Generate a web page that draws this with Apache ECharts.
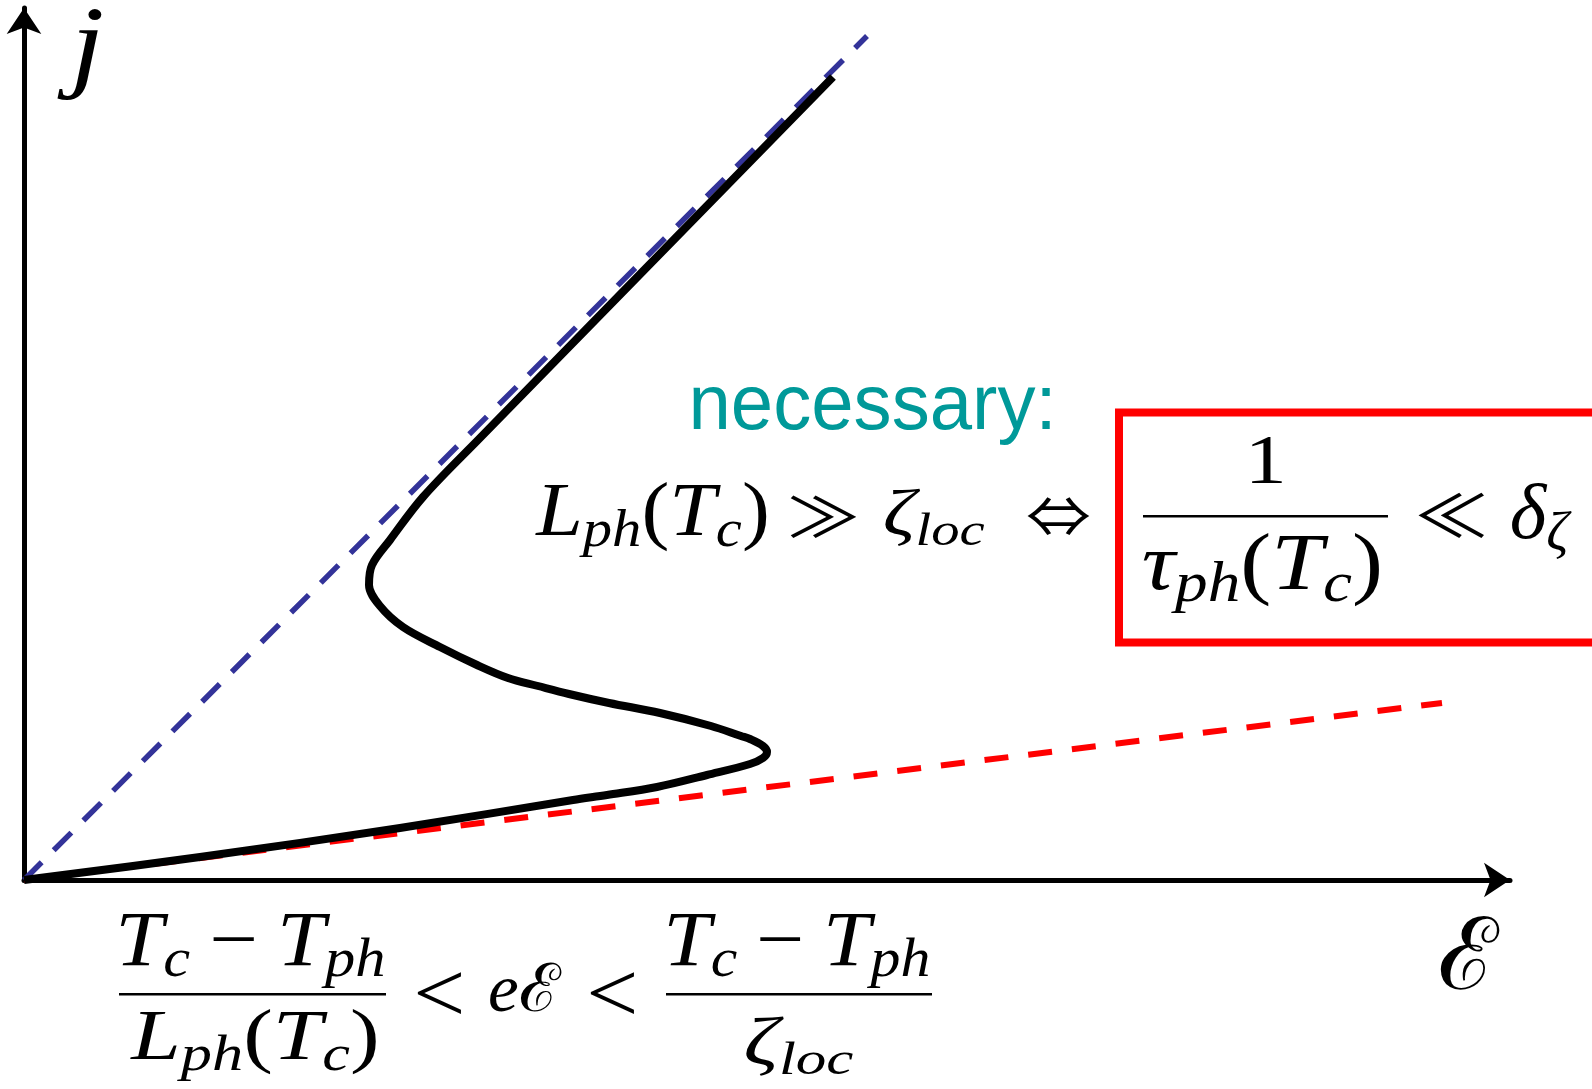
<!DOCTYPE html>
<html><head><meta charset="utf-8">
<script src="https://cdn.jsdelivr.net/npm/echarts@6/dist/echarts.min.js"></script>
<style>html,body{margin:0;padding:0;background:#fff}#c{width:1592px;height:1089px}</style>
</head><body><div id="c"></div>
<script>
// ---- data (schematic units) ----
// S-shaped current–field characteristic j(ℰ)
const curveE = [0, 17.6, 37.6, 54.9, 58.3, 63.3, 68.3, 72.6, 73.9, 74.3, 73.9, 72.6, 71.7, 68.7, 63.6, 58.5, 54.5, 51.4, 48.4, 45.3, 41.6, 37.9, 35.6, 34.5, 34.8, 36.6, 39.9, 45.4, 80.9];
const curveJ = [0, 2.3, 5.2, 8.0, 8.5, 9.3, 10.5, 11.6, 12.2, 12.8, 13.4, 14.1, 14.4, 15.4, 16.7, 17.7, 18.6, 19.4, 20.2, 21.5, 23.3, 25.3, 27.4, 29.5, 31.5, 34.0, 38.3, 44.0, 80.3];
// high-field asymptote (blue dashed)
const blueE = [0, 84.3];
const blueJ = [0, 84.4];
// low-field ohmic line (red dashed)
const redE = [0, 141.8];
const redJ = [0, 17.7];
const axisMaxE = 148.6;
const axisMaxJ = 87.2;

const zip = (a, b) => a.map((v, i) => [v, b[i]]);

// ---- text helpers: lay out formula pieces, then fit them to an ink box ----
const ctx = document.createElement('canvas').getContext('2d');
const SERIF = "'Liberation Serif','DejaVu Serif',serif";
const SANS = "'Liberation Sans',Arial,sans-serif";
const SYM = "'Noto Sans CJK JP','DejaVu Sans',sans-serif";
function fnt(it, size, fam) { return (it ? 'italic ' : '') + size.toFixed(2) + 'px ' + fam; }
function ink(t, f) {
  ctx.font = f; ctx.textBaseline = 'alphabetic'; ctx.textAlign = 'left';
  const m = ctx.measureText(t);
  return { w: m.width, l: -m.actualBoundingBoxLeft, r: m.actualBoundingBoxRight,
           a: m.actualBoundingBoxAscent, d: m.actualBoundingBoxDescent };
}
function midOff(f) {
  ctx.font = f; ctx.textAlign = 'left';
  ctx.textBaseline = 'alphabetic'; const a1 = ctx.measureText('H').actualBoundingBoxAscent;
  ctx.textBaseline = 'middle'; const a2 = ctx.measureText('H').actualBoundingBoxAscent;
  ctx.textBaseline = 'alphabetic';
  return a1 - a2;
}
// box = [x1, y1, x2, y2] ink extent in the picture
function fit(box, size, pieces, opts) {
  opts = opts || {};
  const fam = opts.fam || SERIF, color = opts.color || '#000';
  const subSize = size * 0.7, drop = size * 0.15;
  const items = []; let x = 0;
  let L = Infinity, R = -Infinity, T = Infinity, B = -Infinity;
  pieces.forEach(([t, k]) => {
    if (k === 'g') { x += t * size; return; }
    const sub = k[0] === 's', it = k.indexOf('i') >= 0;
    const fs = sub ? subSize : size;
    const f = fnt(it, fs, fam);
    const b = sub ? drop : 0;
    const m = ink(t, f);
    L = Math.min(L, x + m.l); R = Math.max(R, x + m.r);
    T = Math.min(T, b - m.a); B = Math.max(B, b + m.d);
    items.push({ t, f, x, b, mo: midOff(f) });
    x += m.w;
  });
  const sx = (box[2] - box[0]) / (R - L), sy = (box[3] - box[1]) / (B - T);
  return items.map(o => ({
    type: 'text', silent: true,
    x: box[0] + (o.x - L) * sx, y: box[1] + (o.b - T) * sy - o.mo * sy,
    scaleX: sx, scaleY: sy,
    style: { text: o.t, font: o.f, fill: color, align: 'left', verticalAlign: 'middle' }
  }));
}
const LphTc = [['L','i'],['ph','si'],['(','r'],['T','i'],['c','si'],[')','r']];
const TauTc = [['τ','i'],['ph','si'],['(','r'],['T','i'],['c','si'],[')','r']];
const TcTph = [['T','i'],['c','si'],[0.22,'g'],['−','r'],[0.22,'g'],['T','i'],['ph','si']];
const zloc = [['ζ','i'],['loc','si']];
const sym = { fam: SYM };

const texts = [].concat(
  fit([57, 10, 102, 100], 100, [['j','i']]),
  fit([1440, 915, 1500, 990], 95, [['ℰ','r']]),
  fit([693, 388, 1050, 445], 84, [['necessary:','r']], { fam: SANS, color: '#009999' }),
  // L_ph(T_c) >> zeta_loc <=>
  fit([535, 482, 767, 557], 70, LphTc),
  fit([790, 495, 857, 538], 70, [['≫','r']], sym),
  fit([885, 488, 985, 546], 70, zloc),
  fit([1027, 497, 1090, 535], 70, [['⇔','r']], sym),
  // boxed condition
  fit([1252, 437, 1282, 483], 70, [['1','r']]),
  fit([1143, 533, 1380, 613], 70, TauTc),
  fit([1418, 492, 1485, 538], 70, [['≪','r']], sym),
  fit([1512, 483, 1572, 560], 70, [['δ','i'],['ζ','si']]),
  // bottom inequality
  fit([120, 914, 384, 988], 72, TcTph),
  fit([130, 1008, 376, 1081], 72, LphTc),
  fit([417, 972, 462, 1015], 72, [['<','r']]),
  fit([490, 962, 562, 1012], 72, [['e','i'],['ℰ','r']]),
  fit([590, 972, 635, 1015], 72, [['<','r']]),
  fit([668, 914, 929, 988], 72, TcTph),
  fit([746, 1016, 853, 1076], 72, zloc)
);

const shapes = [
  { type: 'rect', silent: true, shape: { x: 1119, y: 412.5, width: 620, height: 230 },
    style: { fill: 'none', stroke: '#ff0000', lineWidth: 8 } },
  { type: 'rect', silent: true, shape: { x: 1143, y: 515, width: 245, height: 2.5 }, style: { fill: '#000' } },
  { type: 'rect', silent: true, shape: { x: 119, y: 993, width: 267, height: 2.5 }, style: { fill: '#000' } },
  { type: 'rect', silent: true, shape: { x: 666, y: 993, width: 266, height: 2.5 }, style: { fill: '#000' } }
];

const axisCommon = {
  type: 'value', min: 0,
  axisLine: { show: true, onZero: false, symbol: ['none', 'arrow'], symbolSize: [26, 26],
    lineStyle: { color: '#000', width: 5 } },
  axisTick: { show: false }, axisLabel: { show: false }, splitLine: { show: false }
};

const chart = echarts.init(document.getElementById('c'), null, { renderer: 'canvas' });
chart.setOption({
  animation: false,
  backgroundColor: '#fff',
  grid: { left: 24, top: 8, right: 82, bottom: 209, containLabel: false },
  xAxis: Object.assign({}, axisCommon, { max: axisMaxE }),
  yAxis: Object.assign({}, axisCommon, { max: axisMaxJ }),
  series: [
    { type: 'line', data: zip(redE, redJ), showSymbol: false, z: 2,
      lineStyle: { color: '#ff0000', width: 6, type: [24, 20] } },
    { type: 'line', data: zip(blueE, blueJ), showSymbol: false, z: 3,
      lineStyle: { color: '#333399', width: 5.5, type: [25, 17] } },
    { type: 'line', data: zip(curveE, curveJ), showSymbol: false, smooth: 0.35, z: 4,
      lineStyle: { color: '#000', width: 8, cap: 'butt', join: 'round' } }
  ],
  graphic: { elements: shapes.concat(texts) }
});
</script>
</body></html>
